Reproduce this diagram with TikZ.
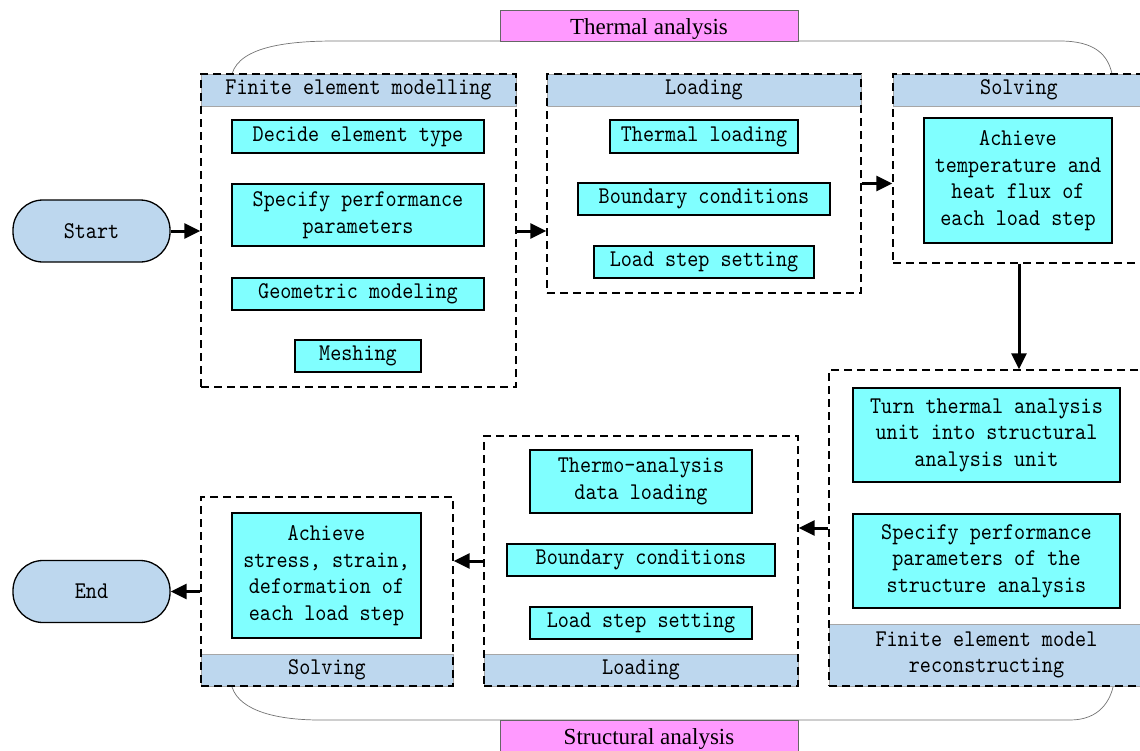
\documentclass[tikz,border=0pt]{standalone}
\usepackage{fontspec}
\setmainfont{Liberation Serif}
\newfontfamily\boxfont[Extension=.otf,FakeStretch=0.88]{lmmono10-regular}
\usetikzlibrary{arrows.meta}

\definecolor{bandblue}{HTML}{BDD7EE}
\definecolor{itemcyan}{HTML}{80FFFF}
\definecolor{titlepink}{HTML}{FF99FF}

\tikzset{
    group/.style={draw, line width=1.4pt, dash pattern=on 8pt off 5pt, fill=none, inner sep=0},
    band/.style={draw=black!35, thin, fill=bandblue, inner sep=0, font=\boxfont\fontsize{24}{26.5}\selectfont, align=center},
    item/.style={draw, line width=1.3pt, fill=itemcyan, inner sep=0, align=center, font=\boxfont\fontsize{24}{26.5}\selectfont},
    pill/.style={draw, line width=1.3pt, fill=bandblue, rounded corners=30pt, inner sep=0, minimum width=157pt, minimum height=62pt, font=\boxfont\fontsize{24}{26.5}\selectfont},
    titlebox/.style={draw=black!60, fill=titlepink, inner sep=0, minimum width=298pt, minimum height=31pt, text height=18pt, text depth=1pt, font=\fontsize{23}{26}\selectfont},
    flow/.style={-{Triangle[length=16pt,width=15pt]}, line width=3pt},
    brace/.style={draw=black!55, line width=0.7pt},
}

\begin{document}
\begin{tikzpicture}[x=1pt, y=-1pt]
    \useasboundingbox (0,0) rectangle (1140,750);
    \clip (0,0) rectangle (1140,750);

    % Chavetas
    \draw[brace] (232,74) .. controls (240,46) and (290,41) .. (335,41) -- (1060,41)
        .. controls (1095,41) and (1108,55) .. (1112,74);
    \draw[brace] (232,687) .. controls (240,712) and (280,720) .. (320,720) -- (1070,720)
        .. controls (1100,720) and (1110,700) .. (1113,687);

    % Titulos
    \node[titlebox] (thermal) at (649,25.5) {Thermal analysis};
    \node[titlebox] (structural) at (649,735.5) {Structural analysis};

    % Faixas
    \node[band, minimum width=315pt, minimum height=32pt] (band1) at (358.5,90) {Finite element modelling};
    \node[band, minimum width=314pt, minimum height=32pt] (band2) at (704,90) {Loading};
    \node[band, minimum width=252pt, minimum height=32pt] (band3) at (1019,90) {Solving};
    \node[band, minimum width=315pt, minimum height=62pt] (band4) at (986.5,655) {Finite element model\\reconstructing};
    \node[band, minimum width=314pt, minimum height=32pt] (band5) at (641,670) {Loading};
    \node[band, minimum width=252pt, minimum height=32pt] (band6) at (327,670) {Solving};

    % Grupos
    \node[group, minimum width=315pt, minimum height=313pt] (g1) at (358.5,230.5) {};
    \node[group, minimum width=314pt, minimum height=219pt] (g2) at (704,183.5) {};
    \node[group, minimum width=252pt, minimum height=189pt] (g3) at (1019,168.5) {};
    \node[group, minimum width=315pt, minimum height=316pt] (g4) at (986.5,528) {};
    \node[group, minimum width=314pt, minimum height=250pt] (g5) at (641,561) {};
    \node[group, minimum width=252pt, minimum height=189pt] (g6) at (327,591.5) {};

    % Passos
    \node[item, minimum width=252pt, minimum height=33pt] (elemtype) at (358,136.5) {Decide element type};
    \node[item, minimum width=252pt, minimum height=62pt] (perf) at (358,215) {Specify performance\\parameters};
    \node[item, minimum width=252pt, minimum height=32pt] (geom) at (358,294) {Geometric modeling};
    \node[item, minimum width=126pt, minimum height=32pt] (mesh) at (358,356) {Meshing};

    \node[item, minimum width=188pt, minimum height=33pt] (thload) at (704,136.5) {Thermal loading};
    \node[item, minimum width=252pt, minimum height=32pt] (bound) at (704,199) {Boundary conditions};
    \node[item, minimum width=220pt, minimum height=32pt] (lstep) at (704,262) {Load step setting};

    \node[item, minimum width=188pt, minimum height=125pt] (temp) at (1018,180.5) {Achieve\\temperature and\\heat flux of\\each load step};

    \node[item, minimum width=267pt, minimum height=94pt] (turn) at (986.5,435) {Turn thermal analysis\\unit into structural\\analysis unit};
    \node[item, minimum width=267pt, minimum height=94pt] (perfs) at (986.5,561) {Specify performance\\parameters of the\\structure analysis};

    \node[item, minimum width=222pt, minimum height=63pt] (thdata) at (641,481.5) {Thermo-analysis\\data loading};
    \node[item, minimum width=268pt, minimum height=32pt] (bounds) at (641,560) {Boundary conditions};
    \node[item, minimum width=222pt, minimum height=32pt] (lsteps) at (641,623) {Load step setting};

    \node[item, minimum width=189pt, minimum height=125pt] (stress) at (326.5,575.5) {Achieve\\stress, strain,\\deformation of\\each load step};

    % Inicio e fim
    \node[pill] (start) at (91.5,231) {Start};
    \node[pill] (end) at (91.5,591.5) {End};

    % Setas
    \draw[flow] (start) -- (g1.west |- start);
    \draw[flow] (g1.east |- start) -- (g2.west |- start);
    \draw[flow] (g2.east) -- (g3.west |- g2.east);
    \draw[flow] (g3.south) -- (g3.south |- g4.north);
    \draw[flow] (g4.west) -- (g5.east |- g4.west);
    \draw[flow] (g5.west) -- (g6.east |- g5.west);
    \draw[flow] (g6.west) -- (end.east);
\end{tikzpicture}
\end{document}
